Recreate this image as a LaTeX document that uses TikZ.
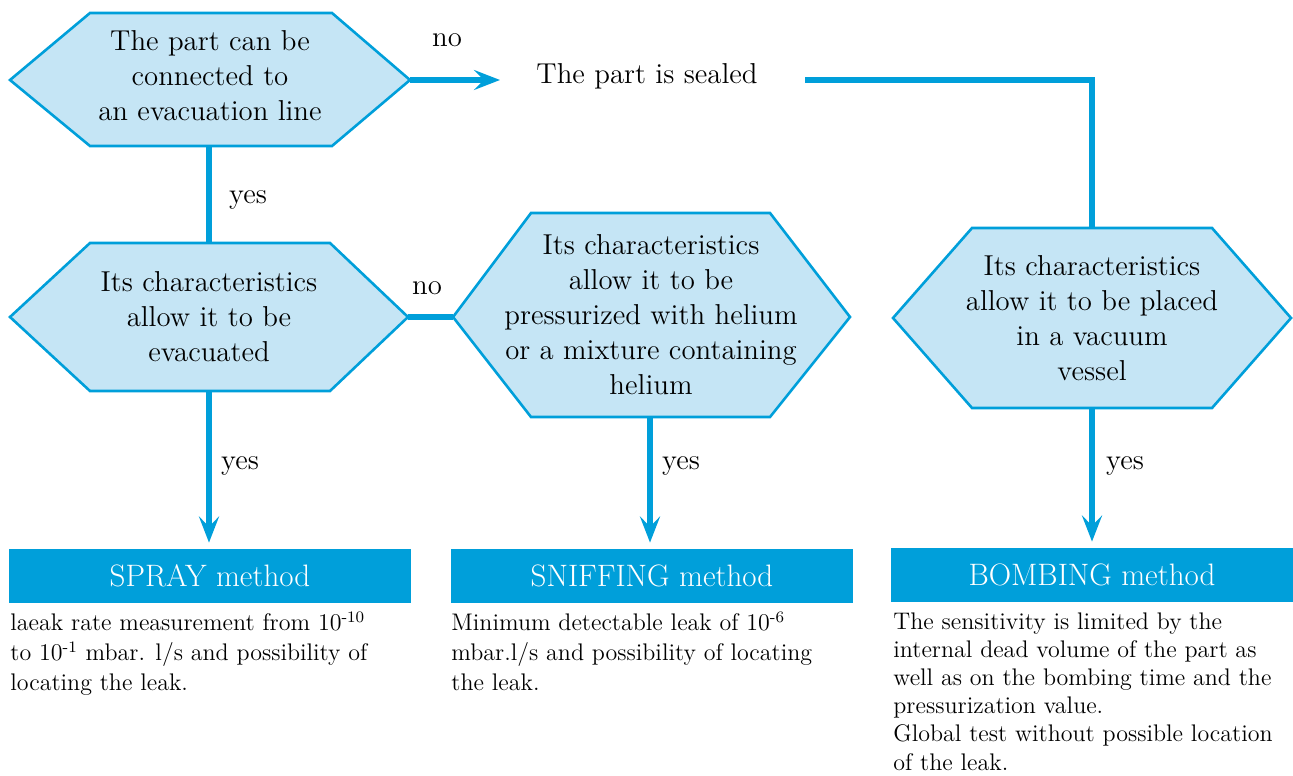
\documentclass[tikz,border=0pt]{standalone}
\usepackage{fontspec}
\usetikzlibrary{arrows.meta}
\definecolor{flowblue}{HTML}{009FDA}
\definecolor{hexfill}{HTML}{C5E5F5}
\begin{document}
\begin{tikzpicture}[x=0.5pt, y=-0.5pt,
	hexagon/.style={draw=flowblue, fill=hexfill, line width=1.3pt},
	question/.style={align=center, inner sep=0pt, font=\fontsize{14.4}{17.5}\selectfont},
	link/.style={draw=flowblue, line width=2.6pt},
	flowarrow/.style={link, -{Stealth[length=13pt, width=10pt, inset=5pt]}},
	answer/.style={inner sep=0pt, font=\fontsize{14.4}{18}\selectfont},
	method/.style={fill=flowblue, text=white, minimum width=201pt, minimum height=27pt, inner sep=0pt, font=\fontsize{15.5}{19}\selectfont},
	note/.style={anchor=north west, align=left, inner sep=0pt, font=\fontsize{12}{15}\selectfont}]
	\useasboundingbox (0, 0) rectangle (1293, 775);
	\draw [hexagon] (10, 80) -- (90, 13) -- (332, 13) -- (410, 80) -- (332, 146) -- (90, 146) -- cycle;
	\draw [hexagon] (10, 317) -- (90, 243) -- (330, 243) -- (408, 317) -- (330, 391) -- (90, 391) -- cycle;
	\draw [hexagon] (453, 317) -- (531, 213) -- (770, 213) -- (850, 317) -- (770, 417) -- (531, 417) -- cycle;
	\draw [hexagon] (893, 318) -- (972, 228) -- (1212, 228) -- (1291, 318) -- (1212, 408) -- (972, 408) -- cycle;
	\node [question] (connect) at (210, 76) {The part can be\\connected to\\an evacuation line};
	\node [question] (evacuate) at (209, 317) {Its characteristics\\allow it to be\\evacuated};
	\node [question] (pressurize) at (651, 315) {Its characteristics\\allow it to be\\pressurized with helium\\or a mixture containing\\helium};
	\node [question] (vessel) at (1092, 318) {Its characteristics\\allow it to be placed\\in a vacuum\\vessel};
	\node [answer] (sealed) at (647, 76) {The part is sealed};
	\coordinate (connect-e) at (410, 80);
	\coordinate (connect-s) at (209, 146);
	\coordinate (sealed-in) at (500, 80);
	\coordinate (sealed-out) at (805, 80);
	\coordinate (evacuate-n) at (209, 243);
	\coordinate (evacuate-e) at (408, 317);
	\coordinate (evacuate-s) at (209, 391);
	\coordinate (pressurize-w) at (453, 317);
	\coordinate (pressurize-s) at (650, 417);
	\coordinate (vessel-n) at (1092, 228);
	\coordinate (vessel-s) at (1092, 408);
	\node [method] (spray) at (210, 576) {SPRAY method};
	\node [method] (sniffing) at (652, 576) {SNIFFING method};
	\node [method] (bombing) at (1092, 575) {BOMBING method};
	\draw [flowarrow] (connect-e) -- (sealed-in);
	\draw [link] (sealed-out) -| (vessel-n);
	\draw [link] (connect-s) -- (evacuate-n);
	\draw [link] (evacuate-e) -- (pressurize-w);
	\draw [flowarrow, shorten >=3pt] (evacuate-s) -- (evacuate-s |- spray.north);
	\draw [flowarrow, shorten >=3pt] (pressurize-s) -- (pressurize-s |- sniffing.north);
	\draw [flowarrow, shorten >=3pt] (vessel-s) -- (vessel-s |- bombing.north);
	\node [answer] (no-sealed) at (447, 40) {no};
	\node [answer] (no-pressurize) at (427, 288) {no};
	\node [answer] (yes-evacuate) at (248, 200) {yes};
	\node [answer] (yes-spray) at (240, 466) {yes};
	\node [answer] (yes-sniffing) at (681, 466) {yes};
	\node [answer] (yes-bombing) at (1125, 466) {yes};
	\node [note] (spray-note) at (10, 611) {laeak rate measurement from 10\textsuperscript{-10}\\to 10\textsuperscript{-1} mbar. l/s and possibility of\\locating the leak.};
	\node [note] (sniffing-note) at (451, 611) {Minimum detectable leak of 10\textsuperscript{-6}\\mbar.l/s and possibility of locating\\the leak.};
	\node [note, font=\fontsize{12}{14.1}\selectfont] (bombing-note) at (893, 612) {The sensitivity is limited by the\\internal dead volume of the part as\\well as on the bombing time and the\\pressurization value.\\Global test without possible location\\of the leak.};
\end{tikzpicture}
\end{document}
